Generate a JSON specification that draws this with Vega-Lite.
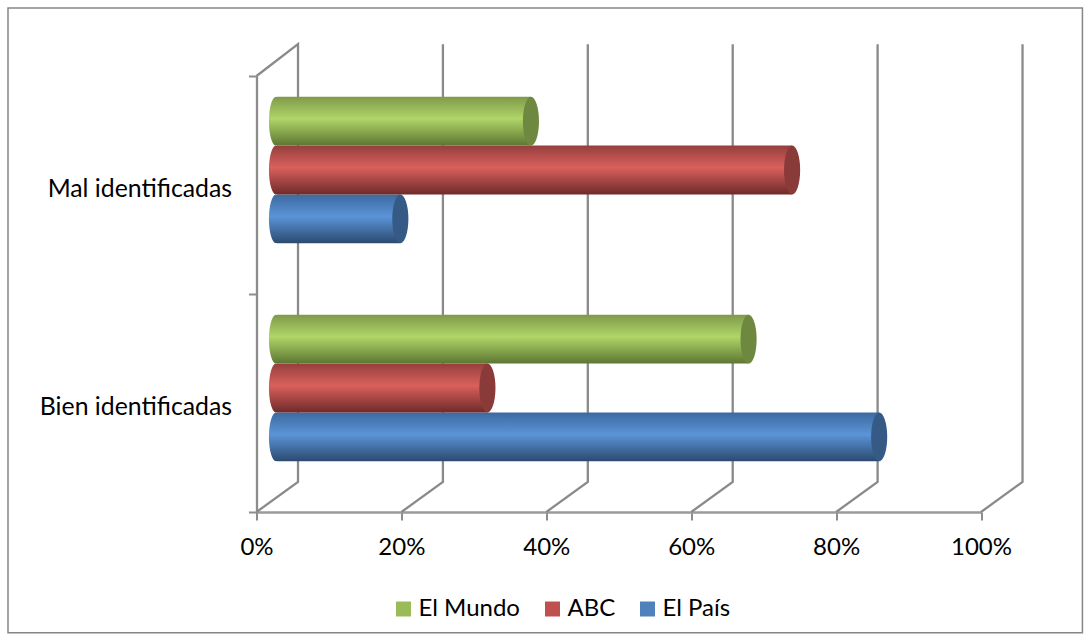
{
"$schema":"https://vega.github.io/schema/vega-lite/v6.json",
"autosize":"none",
"width":724.5,"height":436,
"padding":{"left":256.5,"top":76,"right":111,"bottom":132},
"background":"white",
"view":{"stroke":null},
"config":{"font":"Lato"},
"datasets":{
"bars":[
{"categoria":"Mal identificadas","periodico":"El Mundo","valor":35},
{"categoria":"Mal identificadas","periodico":"ABC","valor":71},
{"categoria":"Mal identificadas","periodico":"El País","valor":17},
{"categoria":"Bien identificadas","periodico":"El Mundo","valor":65},
{"categoria":"Bien identificadas","periodico":"ABC","valor":29},
{"categoria":"Bien identificadas","periodico":"El País","valor":83}],
"walls":[
{"g":"l","x":0,"h":100,"o":0},{"g":"l","x":5.73,"h":107.3,"o":1},{"g":"l","x":5.73,"h":6.9,"o":2},{"g":"l","x":0,"h":0,"o":3},
{"g":"20","x":20,"h":0,"o":0},{"g":"20","x":25.73,"h":6.9,"o":1},{"g":"20","x":25.73,"h":107.3,"o":2},
{"g":"40","x":40,"h":0,"o":0},{"g":"40","x":45.73,"h":6.9,"o":1},{"g":"40","x":45.73,"h":107.3,"o":2},
{"g":"60","x":60,"h":0,"o":0},{"g":"60","x":65.73,"h":6.9,"o":1},{"g":"60","x":65.73,"h":107.3,"o":2},
{"g":"80","x":80,"h":0,"o":0},{"g":"80","x":85.73,"h":6.9,"o":1},{"g":"80","x":85.73,"h":107.3,"o":2},
{"g":"100","x":100,"h":0,"o":0},{"g":"100","x":105.73,"h":6.9,"o":1},{"g":"100","x":105.73,"h":107.3,"o":2}],
"frame":[{"x0":-34.3,"x1":114.0,"h0":-27.7,"h1":115.6}]
},
"resolve":{"scale":{"x":"independent","y":"independent","yOffset":"independent","fill":"independent","color":"independent"},"axis":{"x":"independent","y":"independent"}},
"layer":[
{"data":{"name":"frame"},
 "mark":{"type":"rect","fillOpacity":0,"stroke":"#868686","strokeWidth":1.5},
 "encoding":{
  "x":{"field":"x0","type":"quantitative","scale":{"domain":[0,100]},"axis":null},
  "x2":{"field":"x1"},
  "y":{"field":"h0","type":"quantitative","scale":{"domain":[0,100]},"axis":null},
  "y2":{"field":"h1"}}},
{"data":{"name":"walls"},
 "mark":{"type":"line","stroke":"#8a8a8a","strokeWidth":2.3,"clip":false},
 "encoding":{
  "x":{"field":"x","type":"quantitative","scale":{"domain":[0,100]},
   "axis":{"title":null,"grid":false,"values":[0,20,40,60,80,100],"labelExpr":"datum.value+'%'","tickSize":8,"tickWidth":2,"tickColor":"#8c8c8c","domainColor":"#9a9a9a","domainWidth":2.3,"labelPadding":15,"labelFontSize":24,"labelFont":"Lato","labelColor":"#000000","labelFlush":false,"labelOverlap":false}},
  "y":{"field":"h","type":"quantitative","scale":{"domain":[0,100]},"axis":null},
  "detail":{"field":"g"},
  "order":{"field":"o"}}},
{"data":{"name":"bars"},
 "mark":{"type":"point","opacity":0,"size":0},
 "encoding":{
  "x":{"datum":0,"type":"quantitative","scale":{"domain":[0,100]},"axis":null},
  "y":{"field":"categoria","type":"nominal","scale":{"domain":["Mal identificadas","Bien identificadas"],"paddingInner":0,"paddingOuter":0},
   "axis":{"title":null,"grid":false,"tickBand":"extent","tickSize":8,"tickWidth":2,"tickColor":"#8c8c8c","domainColor":"#8c8c8c","domainWidth":2.3,"labelPadding":17,"labelFontSize":24.8,"labelFont":"Lato","labelColor":"#000000","labelOffset":4,"labelLimit":300}}}},
{"data":{"name":"bars"},"transform":[{"filter":"datum.periodico==='El País'"}],
 "mark":{"type":"point","shape":"M0,-1 A0.29,1 0 1 1 0,1 A0.29,1 0 1 1 0,-1 Z","size":2383,"filled":true,"opacity":1,"strokeWidth":0,
  "fill":{"gradient":"linear","x1":0,"y1":0,"x2":0,"y2":1,"stops":[{"offset":0,"color":"#3b6a9f"},{"offset":0.45,"color":"#5b94d8"},{"offset":1,"color":"#2b4a70"}]}},
 "encoding":{
  "x":{"datum":0,"type":"quantitative","scale":{"domain":[0,100],"range":[19.5,744]},"axis":null},
  "y":{"field":"categoria","type":"nominal","scale":{"domain":["Mal identificadas","Bien identificadas"],"range":[-15,421],"paddingInner":0.328,"paddingOuter":0.164},"axis":null},
  "yOffset":{"field":"periodico","type":"nominal","scale":{"type":"point","padding":0.5,"domain":["El Mundo","ABC","El País"]}}}},
{"data":{"name":"bars"},"transform":[{"filter":"datum.periodico==='El País'"}],
 "mark":{"type":"bar","strokeWidth":0,
  "fill":{"gradient":"linear","x1":0,"y1":0,"x2":0,"y2":1,"stops":[{"offset":0,"color":"#3b6a9f"},{"offset":0.45,"color":"#5b94d8"},{"offset":1,"color":"#2b4a70"}]}},
 "encoding":{
  "x":{"field":"valor","type":"quantitative","scale":{"domain":[0,100],"range":[20.5,746]},"axis":null},
  "y":{"field":"categoria","type":"nominal","scale":{"domain":["Mal identificadas","Bien identificadas"],"range":[-15,421],"paddingInner":0.328,"paddingOuter":0.164},"axis":null},
  "yOffset":{"field":"periodico","type":"nominal","scale":{"domain":["El Mundo","ABC","El País"],"paddingInner":0,"paddingOuter":0}}}},
{"data":{"name":"bars"},"transform":[{"filter":"datum.periodico==='ABC'"}],
 "mark":{"type":"point","shape":"M0,-1 A0.29,1 0 1 1 0,1 A0.29,1 0 1 1 0,-1 Z","size":2383,"filled":true,"opacity":1,"strokeWidth":0,
  "fill":{"gradient":"linear","x1":0,"y1":0,"x2":0,"y2":1,"stops":[{"offset":0,"color":"#953f3d"},{"offset":0.45,"color":"#d9605c"},{"offset":1,"color":"#6e2b2a"}]}},
 "encoding":{
  "x":{"datum":0,"type":"quantitative","scale":{"domain":[0,100],"range":[19.5,744]},"axis":null},
  "y":{"field":"categoria","type":"nominal","scale":{"domain":["Mal identificadas","Bien identificadas"],"range":[-15,421],"paddingInner":0.328,"paddingOuter":0.164},"axis":null},
  "yOffset":{"field":"periodico","type":"nominal","scale":{"type":"point","padding":0.5,"domain":["El Mundo","ABC","El País"]}}}},
{"data":{"name":"bars"},"transform":[{"filter":"datum.periodico==='ABC'"}],
 "mark":{"type":"bar","strokeWidth":0,
  "fill":{"gradient":"linear","x1":0,"y1":0,"x2":0,"y2":1,"stops":[{"offset":0,"color":"#953f3d"},{"offset":0.45,"color":"#d9605c"},{"offset":1,"color":"#6e2b2a"}]}},
 "encoding":{
  "x":{"field":"valor","type":"quantitative","scale":{"domain":[0,100],"range":[20.5,746]},"axis":null},
  "y":{"field":"categoria","type":"nominal","scale":{"domain":["Mal identificadas","Bien identificadas"],"range":[-15,421],"paddingInner":0.328,"paddingOuter":0.164},"axis":null},
  "yOffset":{"field":"periodico","type":"nominal","scale":{"domain":["El Mundo","ABC","El País"],"paddingInner":0,"paddingOuter":0}}}},
{"data":{"name":"bars"},"transform":[{"filter":"datum.periodico==='El Mundo'"}],
 "mark":{"type":"point","shape":"M0,-1 A0.29,1 0 1 1 0,1 A0.29,1 0 1 1 0,-1 Z","size":2383,"filled":true,"opacity":1,"strokeWidth":0,
  "fill":{"gradient":"linear","x1":0,"y1":0,"x2":0,"y2":1,"stops":[{"offset":0,"color":"#7f9a4a"},{"offset":0.45,"color":"#b0d568"},{"offset":1,"color":"#5d7632"}]}},
 "encoding":{
  "x":{"datum":0,"type":"quantitative","scale":{"domain":[0,100],"range":[19.5,744]},"axis":null},
  "y":{"field":"categoria","type":"nominal","scale":{"domain":["Mal identificadas","Bien identificadas"],"range":[-15,421],"paddingInner":0.328,"paddingOuter":0.164},"axis":null},
  "yOffset":{"field":"periodico","type":"nominal","scale":{"type":"point","padding":0.5,"domain":["El Mundo","ABC","El País"]}}}},
{"data":{"name":"bars"},"transform":[{"filter":"datum.periodico==='El Mundo'"}],
 "mark":{"type":"bar","strokeWidth":0,
  "fill":{"gradient":"linear","x1":0,"y1":0,"x2":0,"y2":1,"stops":[{"offset":0,"color":"#7f9a4a"},{"offset":0.45,"color":"#b0d568"},{"offset":1,"color":"#5d7632"}]}},
 "encoding":{
  "x":{"field":"valor","type":"quantitative","scale":{"domain":[0,100],"range":[20.5,746]},"axis":null},
  "y":{"field":"categoria","type":"nominal","scale":{"domain":["Mal identificadas","Bien identificadas"],"range":[-15,421],"paddingInner":0.328,"paddingOuter":0.164},"axis":null},
  "yOffset":{"field":"periodico","type":"nominal","scale":{"domain":["El Mundo","ABC","El País"],"paddingInner":0,"paddingOuter":0}}}},
{"data":{"name":"bars"},
 "mark":{"type":"point","shape":"M0,-1 A0.33,1 0 1 1 0,1 A0.33,1 0 1 1 0,-1 Z","size":2383,"filled":true,"opacity":1,"strokeWidth":0},
 "encoding":{
  "x":{"field":"valor","type":"quantitative","scale":{"domain":[0,100],"range":[20.5,746]},"axis":null},
  "y":{"field":"categoria","type":"nominal","scale":{"domain":["Mal identificadas","Bien identificadas"],"range":[-15,421],"paddingInner":0.328,"paddingOuter":0.164},"axis":null},
  "yOffset":{"field":"periodico","type":"nominal","scale":{"type":"point","padding":0.5,"domain":["El Mundo","ABC","El País"]}},
  "fill":{"field":"periodico","type":"nominal","legend":null,"scale":{"domain":["El Mundo","ABC","El País"],"range":["#6f8840","#8a3a38","#355a85"]}}}},
{"data":{"name":"bars"},
 "mark":{"type":"square","opacity":0,"size":0},
 "encoding":{
  "x":{"datum":0,"type":"quantitative","scale":{"domain":[0,100]},"axis":null},
  "color":{"field":"periodico","type":"nominal","scale":{"domain":["El Mundo","ABC","El País"],"range":["#9bbb59","#c0504d","#4f81bd"]},
   "legend":{"title":null,"orient":"none","legendX":135,"legendY":521,"direction":"horizontal","columns":3,"symbolType":"square","symbolSize":225,"symbolStrokeWidth":0,"symbolOpacity":1,"labelFontSize":24,"labelFont":"Lato","labelColor":"#000000","labelOffset":3,"columnPadding":20,"labelLimit":200}}}}
]
}
